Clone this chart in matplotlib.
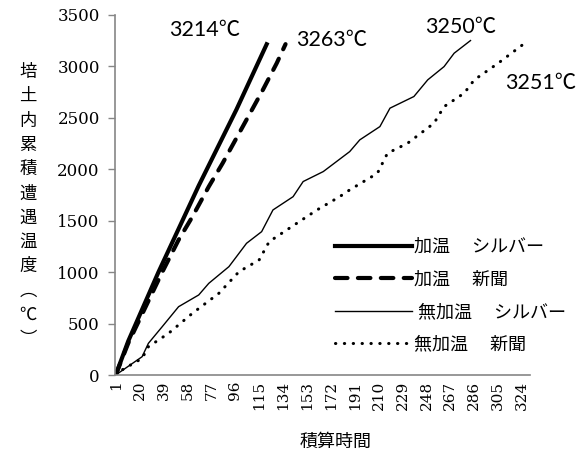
import numpy as np
import matplotlib
matplotlib.use('Agg')
import matplotlib.pyplot as plt

# 読み取りデータ（積算時間, 累積温度）
heat_silver_x = [1, 11, 35, 67, 97, 121]
heat_silver_y = [0, 330, 1000, 1840, 2580, 3214]

heat_news_x = [1, 11, 38, 51, 62, 75, 86, 102, 118, 129, 136]
heat_news_y = [0, 310, 1000, 1313, 1539, 1831, 2058, 2414, 2771, 3030, 3215]

nohe_silver_x = [1, 22, 27, 38, 51, 67, 75, 91, 97, 105, 117, 126, 142, 150,
                 166, 187, 195, 211, 219, 238, 249, 262, 270, 283]
nohe_silver_y = [0, 178, 308, 470, 664, 778, 891, 1053, 1150, 1280, 1393, 1604,
                 1733, 1880, 1977, 2171, 2285, 2414, 2593, 2706, 2868, 2997,
                 3127, 3250]

nohe_news_x = [1, 6, 22, 27, 43, 62, 83, 99, 115, 123, 145, 161, 179, 187,
               209, 217, 233, 254, 262, 278, 286, 305, 329]
nohe_news_y = [0, 49, 162, 275, 405, 600, 794, 1004, 1118, 1296, 1475, 1604,
               1733, 1799, 1960, 2155, 2252, 2447, 2608, 2739, 2868, 3030, 3251]

labels = ['加温\u3000 シルバー', '加温\u3000 新聞', ' 無加温\u3000 シルバー', '無加温\u3000 新聞']
end_texts = ['3214℃', '3263℃', '3250℃', '3251℃']
end_pos = [(72, 3354), (173, 3257), (275, 3383), (339, 2839)]

n_hours = 330
xticks = list(range(1, n_hours + 1, 19))

jp = ['Noto Sans CJK JP', 'DejaVu Sans']
num = ['DejaVu Serif']

fig = plt.figure(figsize=(5.84, 4.63), dpi=100)
ax = fig.add_axes([0.197, 0.19, 0.711, 0.778])

ax.plot(heat_silver_x, heat_silver_y, color='black', lw=3.0, label=labels[0])
ax.plot(heat_news_x, heat_news_y, color='black', lw=3.0,
        linestyle=(0, (3, 2.5)), dash_capstyle='round', label=labels[1])
ax.plot(nohe_silver_x, nohe_silver_y, color='black', lw=1.0, label=labels[2])
ax.plot(nohe_news_x, nohe_news_y, color='black', lw=2.2,
        linestyle=(0, (0.1, 2.8)), dash_capstyle='round', label=labels[3])

for t, (x, y) in zip(end_texts, end_pos):
    ax.text(x, y, t, ha='center', va='center', fontsize=15.5,
            family=['Lato', 'Noto Sans CJK JP'], clip_on=False)

ax.set_xlim(0.5, n_hours + 0.5)
ax.set_ylim(0, 3500)
ax.set_yticks(range(0, 3501, 500))
ax.set_xticks(xticks)
ax.set_xticklabels([str(v) for v in xticks], rotation=90, family=num, fontsize=11)
for lab in ax.get_yticklabels():
    lab.set_family(num)
    lab.set_fontsize(12)
ax.tick_params(axis='x', length=0, pad=4)
ax.tick_params(axis='y', length=5, width=1, color='#868686', pad=6)

for s in ['top', 'right']:
    ax.spines[s].set_visible(False)
for s in ['left', 'bottom']:
    ax.spines[s].set_color('#868686')
    ax.spines[s].set_linewidth(1.2)

leg = ax.legend(loc='upper left', bbox_to_anchor=(0.49, 0.425), frameon=False,
                handlelength=4.3, handletextpad=0.1, labelspacing=0.8,
                prop={'family': jp, 'size': 13})

ylabel = '\n'.join(list('培土内累積遭遇温度') + ['︵', '℃', '︶'])
fig.text(0.048, 0.556, ylabel, ha='center', va='center', family=jp,
         fontsize=12.5, linespacing=1.45)
fig.text(0.574, 0.045, '積算時間', ha='center', va='center', family=jp, fontsize=13)

fig.savefig('out.png', dpi=100)
